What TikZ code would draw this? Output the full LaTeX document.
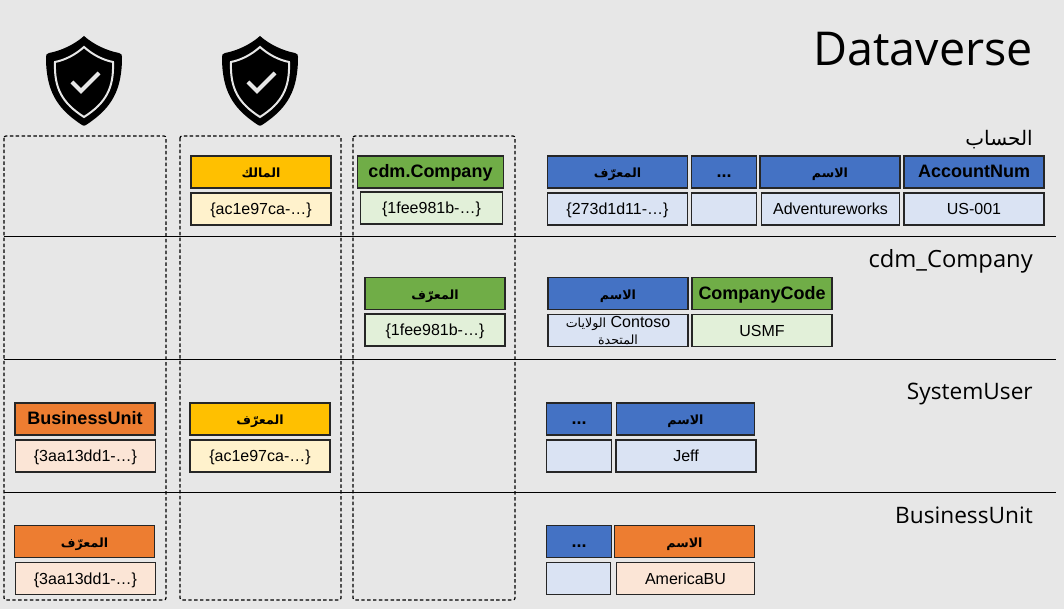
\documentclass[tikz,border=0pt]{standalone}
\usepackage{fontspec}
\setmainfont{Liberation Sans}
\newfontfamily\titlefont{Open Sans}
\newfontfamily\arabicfont[Script=Arabic]{DejaVu Sans}
\TeXXeTstate=1
\usetikzlibrary{positioning}
\definecolor{slidegrey}{HTML}{E7E7E7}
\definecolor{edgegrey}{HTML}{262626}
\definecolor{keyblue}{HTML}{4472C4}
\definecolor{paleblue}{HTML}{DAE3F3}
\definecolor{keygreen}{HTML}{70AD47}
\definecolor{palegreen}{HTML}{E2F0D9}
\definecolor{keyorange}{HTML}{ED7D31}
\definecolor{paleorange}{HTML}{FBE5D6}
\definecolor{keyyellow}{HTML}{FFC000}
\definecolor{paleyellow}{HTML}{FFF2CC}
\newcommand{\arabictext}[1]{{\arabicfont\beginR #1\endR}}
\tikzset{
    basecell/.style={draw=edgegrey, line width=0.8pt, minimum height=24pt, inner sep=0pt, text=black},
    cell/.style={basecell, text height=9pt, text depth=0pt, font=\fontsize{12}{14}\selectfont},
    headcell/.style={cell, font=\fontsize{13.5}{15}\selectfont\bfseries},
    archead/.style={cell, font=\fontsize{9.5}{11}\selectfont\bfseries},
    widecell/.style={minimum width=105pt},
    shortcell/.style={minimum width=48.5pt},
    sheetname/.style={anchor=base east, inner sep=0pt, font=\titlefont\fontsize{17}{20}\selectfont, text=black},
    columnbox/.style={draw=black, line width=0.9pt, dash pattern=on 2.6pt off 1.8pt, rounded corners=1.5pt},
    rowline/.style={draw=black, line width=0.75pt}
}

\begin{document}
\begin{tikzpicture}[x=0.75pt, y=-0.75pt]

    % =================================================================
    % LAYER 0: THE SLIDE BACKGROUND
    % =================================================================
    \fill[slidegrey] (0,0) rectangle (1064,609);

    % =================================================================
    % LAYER 1: THE ROW LINES AND DASHED COLUMNS
    % =================================================================
    \draw[rowline] (4,237) -- (1056,237);
    \draw[rowline] (4,360) -- (1056,360);
    \draw[rowline] (4,492) -- (1056,492);

    \draw[columnbox] (4,136) rectangle (166,600);
    \draw[columnbox] (180,136) rectangle (341,600);
    \draw[columnbox] (353,136) rectangle (515,600);

    % =================================================================
    % LAYER 2: THE SHIELDS
    % =================================================================
    \foreach \sx in {84,260} {
        \begin{scope}[xshift=\sx*0.75pt]
            \fill[black] (0,36) .. controls (10,45) and (24,51) .. (35,53)
                .. controls (37.5,53.5) and (38,55) .. (38,57)
                .. controls (38,90) and (28,108) .. (2,125)
                .. controls (1,126) and (-1,126) .. (-2,125)
                .. controls (-28,108) and (-38,90) .. (-38,57)
                .. controls (-38,55) and (-37.5,53.5) .. (-35,53)
                .. controls (-24,51) and (-10,45) .. (0,36) -- cycle;
            \draw[slidegrey, line width=1.5pt] (0,47)
                .. controls (9,55) and (19,60) .. (29,62)
                .. controls (30,88) and (22,103) .. (0,117)
                .. controls (-22,103) and (-30,88) .. (-29,62)
                .. controls (-19,60) and (-9,55) .. (0,47) -- cycle;
            \draw[slidegrey, line width=3pt] (-12,82) -- (-3,91) -- (15,73);
        \end{scope}
    }

    % =================================================================
    % LAYER 3: THE SHEET NAMES
    % =================================================================
    \node[sheetname, font=\titlefont\fontsize{35}{40}\selectfont] (dataverse) at (1033,66) {Dataverse};
    \node[sheetname, font=\arabicfont\fontsize{15}{20}\selectfont] (accountname) at (1033,146) {\arabictext{الحساب}};
    \node[sheetname, font=\titlefont\fontsize{17.8}{20}\selectfont] (companyname) at (1033,268) {cdm\_Company};
    \node[sheetname] (username) at (1033,400) {SystemUser};
    \node[sheetname] (unitname) at (1033,523) {BusinessUnit};

    % =================================================================
    % LAYER 4: THE ACCOUNT ROW
    % =================================================================
    \node[archead, widecell, fill=keyyellow] (ownerhead) at (261,172) {\arabictext{المالك}};
    \node[cell, widecell, fill=paleyellow] (ownerval) at (261,209) {\{ac1e97ca-…\}};
    \node[headcell, minimum width=109pt, fill=keygreen] (companyhead) at (430.5,172) {cdm.Company};
    \node[cell, minimum width=107pt, fill=palegreen] (companyval) at (431.5,208) {\{1fee981b-…\}};

    \node[archead, widecell, fill=keyblue] (acchead) at (617.5,172) {\arabictext{المعرّف}};
    \node[cell, widecell, fill=paleblue] (accval) at (617.5,209) {\{273d1d11-…\}};
    \node[headcell, shortcell, fill=keyblue] (accmorehead) at (724,172) {...};
    \node[cell, shortcell, fill=paleblue] (accmoreval) at (724,209) {};
    \node[archead, widecell, fill=keyblue] (accnamehead) at (830,172) {\arabictext{الاسم}};
    \node[cell, minimum width=104pt, fill=paleblue] (accnameval) at (830.5,209) {Adventureworks};
    \node[headcell, widecell, fill=keyblue] (accnumhead) at (974,172) {AccountNum};
    \node[cell, widecell, fill=paleblue] (accnumval) at (974,209) {US-001};

    % =================================================================
    % LAYER 5: THE COMPANY ROW
    % =================================================================
    \node[archead, widecell, fill=keygreen] (cidhead) at (435,293.5) {\arabictext{المعرّف}};
    \node[cell, widecell, fill=palegreen] (cidval) at (435,330) {\{1fee981b-…\}};
    \node[archead, widecell, fill=keyblue] (cnamehead) at (618,293.5) {\arabictext{الاسم}};
    \node[basecell, widecell, fill=paleblue, align=center, font=\fontsize{12}{14}\selectfont] (cnameval) at (618,330.5)
        {{\arabicfont\fontsize{9.5}{10}\selectfont\arabictext{الولايات}} Contoso\\[-1pt]{\arabicfont\fontsize{9.5}{10}\selectfont\arabictext{المتحدة}}};
    \node[headcell, widecell, fill=keygreen] (ccodehead) at (762,293.5) {CompanyCode};
    \node[cell, widecell, fill=palegreen] (ccodeval) at (762,330.5) {USMF};

    % =================================================================
    % LAYER 6: THE USER ROW
    % =================================================================
    \node[headcell, widecell, fill=keyorange] (buhead) at (85,419) {BusinessUnit};
    \node[cell, widecell, fill=paleorange] (buval) at (85.5,456) {\{3aa13dd1-…\}};
    \node[archead, widecell, fill=keyyellow] (uidhead) at (260,419) {\arabictext{المعرّف}};
    \node[cell, widecell, fill=paleyellow] (uidval) at (260,456) {\{ac1e97ca-…\}};
    \node[headcell, shortcell, fill=keyblue] (umorehead) at (579,419) {...};
    \node[cell, shortcell, fill=paleblue] (umoreval) at (579,456) {};
    \node[archead, minimum width=104pt, fill=keyblue] (unamehead) at (685.5,419) {\arabictext{الاسم}};
    \node[cell, widecell, fill=paleblue] (unameval) at (686,456) {Jeff};

    % =================================================================
    % LAYER 7: THE UNIT ROW
    % =================================================================
    \node[archead, widecell, fill=keyorange] (unithead) at (84.5,541.5) {\arabictext{المعرّف}};
    \node[cell, widecell, fill=paleorange] (unitval) at (85.5,578.5) {\{3aa13dd1-…\}};
    \node[headcell, shortcell, fill=keyblue] (bmorehead) at (579,541.5) {...};
    \node[cell, minimum width=48pt, fill=paleblue] (bmoreval) at (578.5,578.5) {};
    \node[archead, widecell, fill=keyorange] (bnamehead) at (684.5,541.5) {\arabictext{الاسم}};
    \node[cell, minimum width=104pt, fill=paleorange] (bnameval) at (685.5,578.5) {AmericaBU};

\end{tikzpicture}
\end{document}
